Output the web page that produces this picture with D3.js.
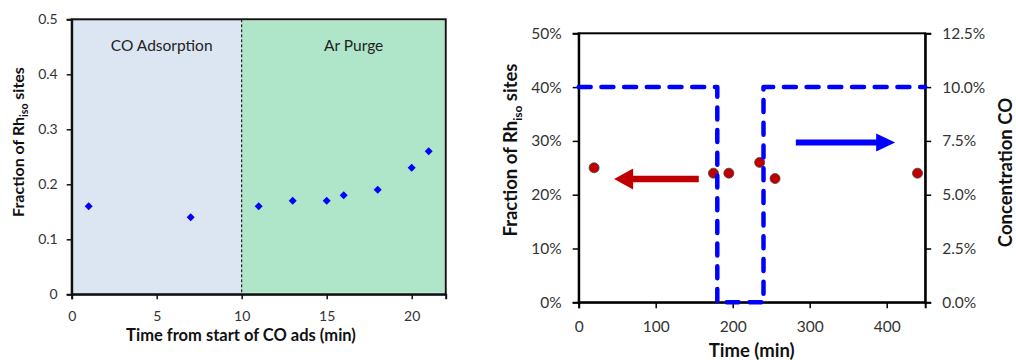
<!DOCTYPE html>
<html><head><meta charset="utf-8">
<script src="https://cdn.jsdelivr.net/npm/d3@7"></script>
<style>
body{margin:0;background:#fff;}
text{font-family:Lato,"Open Sans",sans-serif;}
</style></head>
<body>
<svg id="c" width="1016" height="360"></svg>
<script>
// ---------- Data: left chart ----------
const leftTime = [1, 7, 11, 13, 15, 16, 18, 20, 21];
const leftFraction = [0.16, 0.14, 0.16, 0.17, 0.17, 0.18, 0.19, 0.23, 0.26];
const leftXTicks = [0, 5, 10, 15, 20];
const leftYTicks = [0, 0.1, 0.2, 0.3, 0.4, 0.5];
const phaseNames = ["CO Adsorption", "Ar Purge"];
const phaseStart = [0, 10];
const phaseEnd = [10, 22];

// ---------- Data: right chart ----------
const rightTime = [20, 175, 195, 235, 255, 440];
const rightFraction = [0.25, 0.24, 0.24, 0.26, 0.23, 0.24];
const coTime = [0, 180, 180, 240, 240, 450];
const coConc = [0.10, 0.10, 0, 0, 0.10, 0.10];
const rightXTicks = [0, 100, 200, 300, 400];
const rightYTicksL = [0, 0.1, 0.2, 0.3, 0.4, 0.5];
const rightYTicksR = [0, 0.025, 0.05, 0.075, 0.1, 0.125];
// arrows: [x tail, x tip, y] in data units (left-axis y)
const redArrow = [156, 46, 0.229];
const blueArrow = [282, 411, 0.297];

const svg = d3.select("#c");

// ================= LEFT CHART =================
const L = svg.append("g");
const lx = d3.scaleLinear().domain([0, 22]).range([71.7, 445.7]);
const ly = d3.scaleLinear().domain([0, 0.5]).range([294.3, 19.3]);
const phaseColors = ["#dce6f2", "#afe5c8"];

L.selectAll("rect.phase").data(phaseNames).join("rect")
  .attr("class", "phase")
  .attr("x", (d, i) => lx(phaseStart[i]))
  .attr("y", (d, i) => ly(0.5) + (i ? 1.5 : 0))
  .attr("width", (d, i) => lx(phaseEnd[i]) - lx(phaseStart[i]) - (i ? 1.5 : 0))
  .attr("height", (d, i) => ly(0) - ly(0.5) - (i ? 3 : 0))
  .attr("fill", (d, i) => phaseColors[i]);

L.selectAll("text.phase").data(phaseNames).join("text")
  .attr("class", "phase")
  .attr("x", (d, i) => (lx(phaseStart[i]) + lx(phaseEnd[i])) / 2 + (i ? 10 : 5))
  .attr("y", 51)
  .attr("text-anchor", "middle")
  .attr("font-size", 15.5)
  .attr("fill", "#222")
  .text(d => d);

L.append("line")
  .attr("x1", lx(10)).attr("x2", lx(10))
  .attr("y1", ly(0.5)).attr("y2", ly(0))
  .attr("stroke", "#000").attr("stroke-width", 1)
  .attr("stroke-dasharray", "3,2");

// frame
L.append("rect")
  .attr("x", lx(0)).attr("y", ly(0.5))
  .attr("width", lx(22) - lx(0)).attr("height", ly(0) - ly(0.5))
  .attr("fill", "none").attr("stroke", "#111").attr("stroke-width", 2);

const lxAxis = L.append("g").attr("transform", `translate(0,${ly(0)})`)
  .call(d3.axisBottom(lx).tickValues(leftXTicks).tickSize(5).tickPadding(12).tickFormat(d3.format("d")));
const lyAxis = L.append("g").attr("transform", `translate(${lx(0)},0)`)
  .call(d3.axisLeft(ly).tickValues(leftYTicks).tickSize(5).tickPadding(9)
    .tickFormat(d => d === 0 ? "0" : d3.format(".1f")(d)));
[lxAxis, lyAxis].forEach(a => {
  a.select(".domain").attr("stroke", "#111").attr("stroke-width", 2);
  a.selectAll(".tick line").attr("stroke", "#111").attr("stroke-width", 1.5);
  a.selectAll(".tick text").attr("font-size", 14).attr("fill", "#333")
    .attr("font-family", "Lato, sans-serif");
});

const diamond = d3.symbol().type(d3.symbolSquare).size(32);
L.selectAll("path.pt").data(leftTime).join("path")
  .attr("class", "pt")
  .attr("d", diamond)
  .attr("transform", (d, i) => `translate(${lx(d)},${ly(leftFraction[i])}) rotate(45)`)
  .attr("fill", "#0000ff");

L.append("text")
  .attr("x", 241).attr("y", 341)
  .attr("text-anchor", "middle").attr("font-weight", "bold").attr("font-size", 16.5)
  .attr("fill", "#111")
  .text("Time from start of CO ads (min)");

const lyt = L.append("text")
  .attr("transform", `translate(24,${142}) rotate(-90)`)
  .attr("text-anchor", "middle").attr("font-weight", "bold").attr("font-size", 16)
  .attr("fill", "#111");
lyt.append("tspan").text("Fraction of Rh");
lyt.append("tspan").attr("font-size", 10.5).attr("dy", 4).text("iso");
lyt.append("tspan").attr("dy", -4).text(" sites");

// ================= RIGHT CHART =================
const R = svg.append("g");
const rx = d3.scaleLinear().domain([0, 450]).range([578.7, 925.2]);
const ryL = d3.scaleLinear().domain([0, 0.5]).range([302.3, 33.3]);
const ryR = d3.scaleLinear().domain([0, 0.125]).range([302.3, 33.3]);

R.append("rect")
  .attr("x", rx(0)).attr("y", ryL(0.5))
  .attr("width", rx(450) - rx(0)).attr("height", ryL(0) - ryL(0.5))
  .attr("fill", "none").attr("stroke", "#000").attr("stroke-width", 2);

const rxAxis = R.append("g").attr("transform", `translate(0,${ryL(0)})`)
  .call(d3.axisBottom(rx).tickValues(rightXTicks).tickSize(6).tickPadding(13).tickFormat(d3.format("d")));
const ryAxisL = R.append("g").attr("transform", `translate(${rx(0)},0)`)
  .call(d3.axisLeft(ryL).tickValues(rightYTicksL).tickSize(6).tickPadding(11).tickFormat(d3.format(".0%")));
const ryAxisR = R.append("g").attr("transform", `translate(${rx(450)},0)`)
  .call(d3.axisRight(ryR).tickValues(rightYTicksR).tickSize(6).tickPadding(11).tickFormat(d3.format(".1%")));
[rxAxis, ryAxisL, ryAxisR].forEach(a => {
  a.select(".domain").attr("stroke", "#000").attr("stroke-width", 2);
  a.selectAll(".tick line").attr("stroke", "#000").attr("stroke-width", 1.5);
  a.selectAll(".tick text").attr("font-size", 15.5).attr("fill", "#333")
    .attr("font-family", "Lato, sans-serif");
});

// red points
R.selectAll("circle.pt").data(rightTime).join("circle")
  .attr("class", "pt")
  .attr("cx", d => rx(d))
  .attr("cy", (d, i) => ryL(rightFraction[i]))
  .attr("r", 5)
  .attr("fill", "#c00000").attr("stroke", "#444").attr("stroke-width", 0.8);

// CO concentration dashed line
const coLine = d3.line().x(d => rx(d[0])).y(d => ryR(d[1]));
R.append("path")
  .attr("d", coLine(coTime.map((t, i) => [t, coConc[i]])))
  .attr("fill", "none").attr("stroke", "#0000ff").attr("stroke-width", 4.5)
  .attr("stroke-linecap", "round").attr("stroke-linejoin", "round")
  .attr("stroke-dasharray", "12,10.7");

// arrows
function arrow(tail, tip, yv, shaft, headW, headL, color) {
  const x0 = rx(tail), x1 = rx(tip), y = ryL(yv);
  const dir = Math.sign(x1 - x0);
  const xb = x1 - dir * headL;
  const p = d3.path();
  p.moveTo(x0, y - shaft / 2);
  p.lineTo(xb, y - shaft / 2);
  p.lineTo(xb, y - headW / 2);
  p.lineTo(x1, y);
  p.lineTo(xb, y + headW / 2);
  p.lineTo(xb, y + shaft / 2);
  p.lineTo(x0, y + shaft / 2);
  p.closePath();
  R.append("path").attr("d", p.toString()).attr("fill", color);
}
arrow(redArrow[0], redArrow[1], redArrow[2], 6.5, 21, 19, "#c00000");
arrow(blueArrow[0], blueArrow[1], blueArrow[2], 6, 18, 19, "#0000ff");

// titles
R.append("text")
  .attr("x", 751.7).attr("y", 356.5)
  .attr("text-anchor", "middle").attr("font-weight", "bold").attr("font-size", 18.5)
  .attr("fill", "#111")
  .text("Time (min)");

const ryt = R.append("text")
  .attr("transform", `translate(517,150) rotate(-90)`)
  .attr("text-anchor", "middle").attr("font-weight", "bold").attr("font-size", 18.5)
  .attr("fill", "#111");
ryt.append("tspan").text("Fraction of Rh");
ryt.append("tspan").attr("font-size", 12).attr("dy", 5).text("iso");
ryt.append("tspan").attr("dy", -5).text(" sites");

R.append("text")
  .attr("transform", `translate(1012,172.5) rotate(-90)`)
  .attr("text-anchor", "middle").attr("font-weight", "bold").attr("font-size", 18.5)
  .attr("fill", "#111")
  .text("Concentration CO");
</script>
</body></html>
